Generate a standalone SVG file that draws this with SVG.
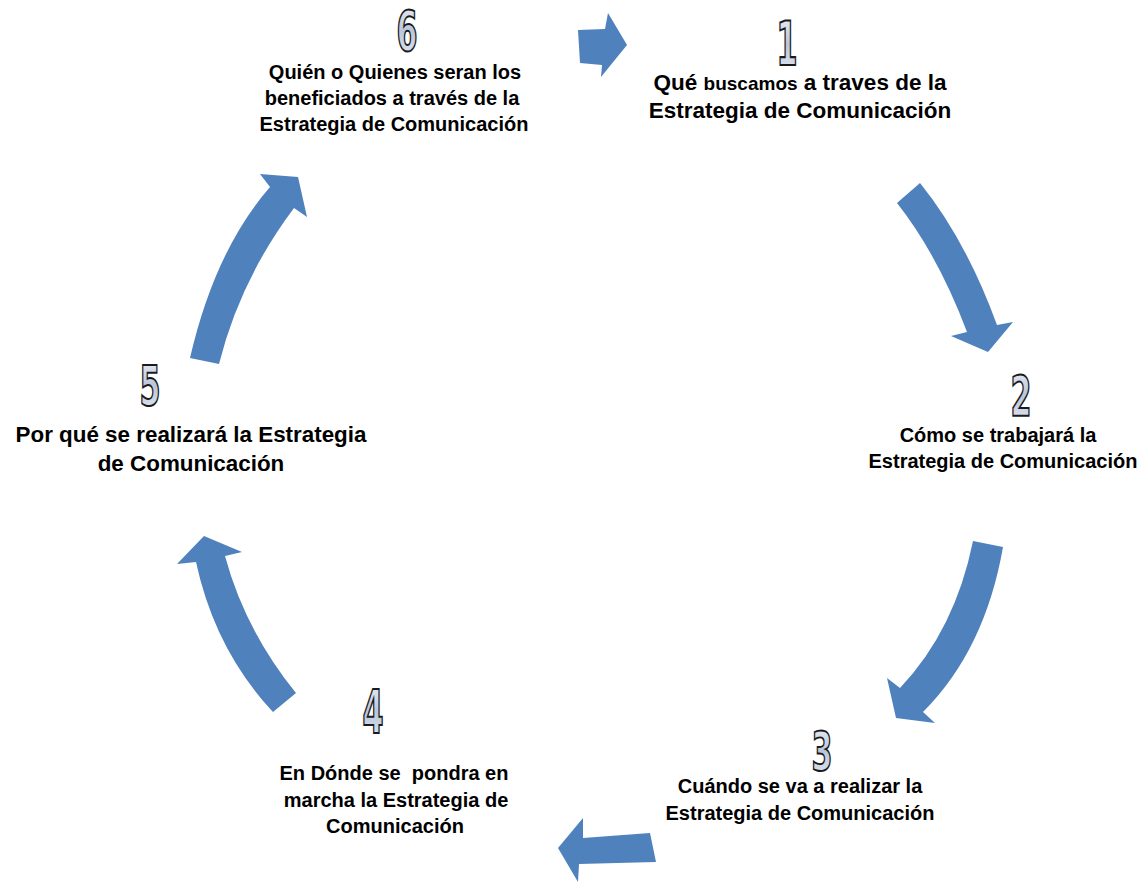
<svg xmlns="http://www.w3.org/2000/svg" width="1144" height="882" viewBox="0 0 1144 882">
<defs>
<linearGradient id="dg" x1="0" y1="0" x2="0" y2="1">
<stop offset="0" stop-color="#f4f6fa"/>
<stop offset="0.5" stop-color="#b9c5da"/>
<stop offset="1" stop-color="#e8edf5"/>
</linearGradient>
<style>
.arr{fill:#4f81bd;stroke:none}
.t{font-family:"Liberation Sans",Arial,sans-serif;font-weight:bold;fill:#000;text-anchor:middle}
.d{font-family:"Liberation Sans Narrow","DejaVu Sans Condensed","Liberation Sans",sans-serif;font-weight:bold;font-size:56px;fill:url(#dg);stroke:#1a1a1a;stroke-width:2;text-anchor:middle}
</style>
</defs>
<rect width="1144" height="882" fill="#fff"/>
<g id="connectors">
<path class="arr" d="M578,30 L605,29 L608,13 L627,45 L601,77 L602,65 L580,63 Z"/>
<path class="arr" d="M920,183 Q966,240 997,325 L1013,322 L988,352 L951,336 L967,332 Q938,255 897,203 Z"/>
<path class="arr" d="M973,541 L1003,547 Q985,650 923,712 L935,723 L896,718 L887,678 L900,688 Q955,630 973,541 Z"/>
<path class="arr" d="M650,833 L656,862 L579,864 L578,882 L558,848 L583,818 L583,838 Z"/>
<path class="arr" d="M296,693 L273,712 Q215,650 196,562 L177,564 L204,536 L242,552 L225,556 Q245,630 296,693 Z"/>
<path class="arr" d="M190,358 L219,364 Q240,280 294,208 L307,217 L298,177 L260,174 L270,187 Q215,250 190,358 Z"/>
</g>
<g id="node1">
<text class="d" transform="translate(787,65) scale(0.6,1.07)">1</text>
<text class="t" x="800" y="90" font-size="22.5">Qué <tspan font-size="19">buscamos</tspan> a traves de la</text>
<text class="t" x="800" y="118" font-size="22.5">Estrategia de Comunicación</text>
</g>
<g id="node2">
<text class="d" transform="translate(1021,415) scale(0.6,1)">2</text>
<text class="t" x="998" y="442" font-size="20">Cómo se trabajará la</text>
<text class="t" x="1003" y="468" font-size="20">Estrategia de Comunicación</text>
</g>
<g id="node3">
<text class="d" transform="translate(822,770) scale(0.6,0.95)">3</text>
<text class="t" x="800" y="793" font-size="20">Cuándo se va a realizar la</text>
<text class="t" x="800" y="820" font-size="20">Estrategia de Comunicación</text>
</g>
<g id="node4">
<text class="d" transform="translate(373,733) scale(0.6,1.07)">4</text>
<text class="t" x="394" y="780" font-size="20" xml:space="preserve">En Dónde se  pondra en</text>
<text class="t" x="396" y="807" font-size="20">marcha la Estrategia de</text>
<text class="t" x="395" y="833" font-size="20">Comunicación</text>
</g>
<g id="node5">
<text class="d" transform="translate(150,405) scale(0.6,1)">5</text>
<text class="t" x="191" y="442" font-size="22.4">Por qué se realizará la Estrategia</text>
<text class="t" x="191" y="471" font-size="22.4">de Comunicación</text>
</g>
<g id="node6">
<text class="d" transform="translate(407,50) scale(0.6,1)">6</text>
<text class="t" x="395" y="79" font-size="20">Quién o Quienes seran los</text>
<text class="t" x="392" y="105" font-size="20">beneficiados a través de la</text>
<text class="t" x="394" y="131" font-size="20">Estrategia de Comunicación</text>
</g>
</svg>
